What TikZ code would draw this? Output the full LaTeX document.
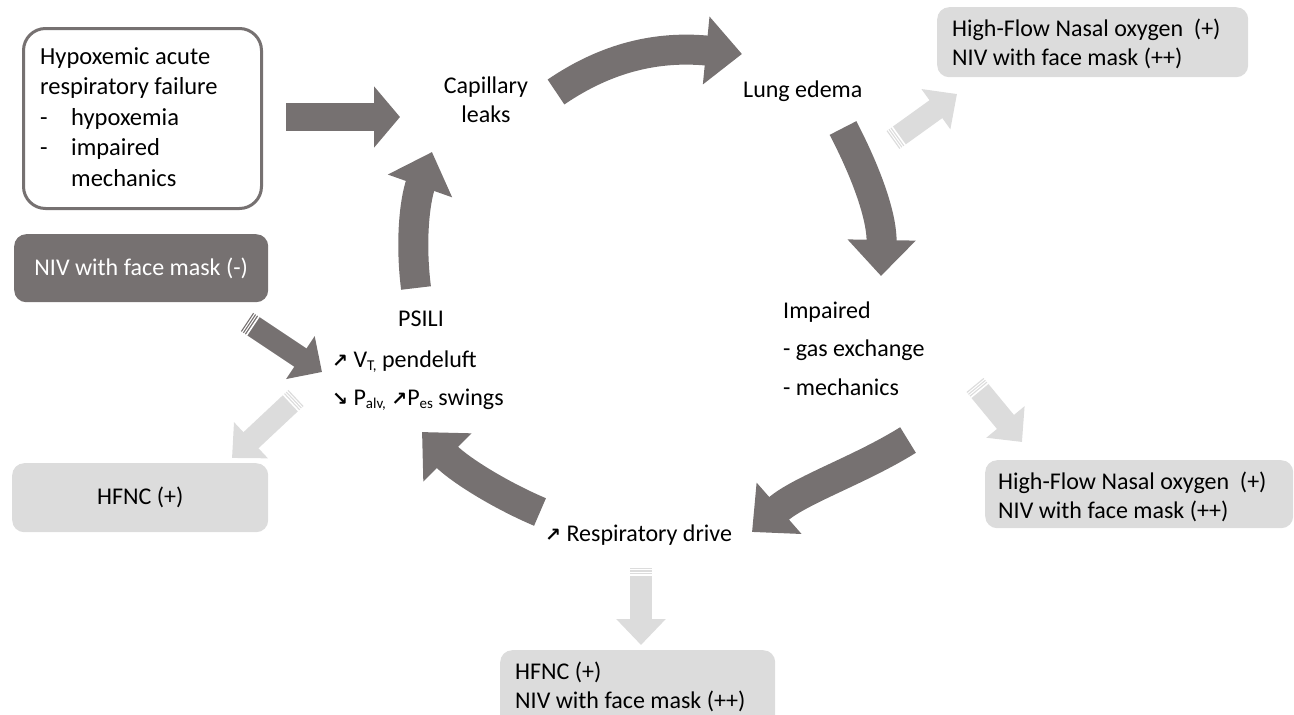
\documentclass[tikz,border=0pt]{standalone}
\usepackage{fontspec}
\setmainfont{Carlito}
\newfontfamily\symfont{DejaVu Sans}
\usetikzlibrary{arrows.meta}
\definecolor{darkg}{HTML}{767171}
\definecolor{lightg}{HTML}{DCDCDC}
\newcommand\upar{{\symfont\bfseries\fontsize{19}{19}\selectfont ↗}}
\newcommand\dnar{{\symfont\bfseries\fontsize{19}{19}\selectfont ↘}}
\newcommand\sbs[1]{\raisebox{-0.28ex}{\fontsize{15}{15}\selectfont #1}}
\begin{document}
\begin{tikzpicture}[x=1pt,y=-1pt,
  every node/.style={font=\fontsize{24}{29}\selectfont, inner sep=0pt},
  txt/.style={anchor=base west},
  lightbox/.style={fill=lightg, rounded corners=12pt},
  bigdark/.style={draw=darkg, line width=30pt, -{Triangle[length=36pt,width=66pt]}},
  smalldark/.style={draw=darkg, line width=22pt, -{Triangle[length=26pt,width=50pt]}},
  smalllight/.style={draw=lightg, line width=22pt, -{Triangle[length=26pt,width=48pt]}},
  stripes/.style={draw=white, line width=23pt, shorten <=1.3pt, dash pattern=on 1pt off 1.4pt on 1pt off 1.4pt on 1.6pt off 3000pt}
]
\useasboundingbox (0,0) rectangle (1294,715);

% boxes
\node[draw=darkg, line width=3pt, rounded corners=22pt, fill=white,
      minimum width=238pt, minimum height=180pt, anchor=north west] (hyp) at (22,27) {};
\node[txt, align=left, font=\fontsize{24.5}{30.5}\selectfont] (hyptxt) at (40,186)
  {Hypoxemic acute\\respiratory failure\\\makebox[31pt][l]{-}hypoxemia\\\makebox[31pt][l]{-}impaired\\\makebox[31pt][l]{}mechanics};

\node[fill=darkg, rounded corners=12pt, minimum width=254pt, minimum height=68pt,
      anchor=north west, text=white] (nivbad) at (14,234) {NIV with face mask (-)};
\node[lightbox, minimum width=256pt, minimum height=69pt, anchor=north west] (hfncl) at (12,463) {HFNC (+)};

\node[lightbox, minimum width=311pt, minimum height=70pt, anchor=north west] (trbox) at (937,7) {};
\node[txt, align=left] (trtxt) at (952,65) {High-Flow Nasal oxygen\ \ (+)\\NIV with face mask (++)};

\node[lightbox, minimum width=308pt, minimum height=68pt, anchor=north west] (brbox) at (985,460) {};
\node[txt, align=left] (brtxt) at (998,518) {High-Flow Nasal oxygen\ \ (+)\\NIV with face mask (++)};

\node[lightbox, minimum width=275pt, minimum height=80pt, anchor=north west] (botbox) at (500,650) {};
\node[txt, align=left] (bottxt) at (515,708) {HFNC (+)\\NIV with face mask (++)};

% cycle texts
\node[anchor=base, align=center] (cap) at (486,122) {Capillary\\leaks};
\node[txt] (lung) at (743,97) {Lung edema};
\node[txt, align=left, font=\fontsize{24}{38.5}\selectfont] (imp) at (783,395) {Impaired\\- gas exchange\\- mechanics};
\node[txt] (resp) at (545,541) {\upar\ Respiratory drive};
\node[anchor=base] (psili) at (421,326) {PSILI};
\node[txt] (vt) at (332,367) {\upar\ V\sbs{T,} pendeluft};
\node[txt] (palv) at (332,405) {\dnar\ P\sbs{alv,} \upar P\sbs{es} swings};

% connector end points
\coordinate (a1) at (286,117); \coordinate (a2) at (400,117);
\coordinate (t1) at (556,92);  \coordinate (t2) at (742,54);
\coordinate (r1) at (843,128); \coordinate (r2) at (881,276);
\coordinate (lr1) at (908,440); \coordinate (lr2) at (752,532);
\coordinate (ll1) at (540,512); \coordinate (ll2) at (422,432);
\coordinate (l1) at (416,288); \coordinate (l2) at (432,152);
\coordinate (n1) at (247,322); \coordinate (n2) at (322,372);
\coordinate (h1) at (296,398); \coordinate (h2) at (232,458);
\coordinate (e1) at (893,140); \coordinate (e2) at (957,94);
\coordinate (m1) at (975,385); \coordinate (m2) at (1022,442);
\coordinate (d1) at (641,568); \coordinate (d2) at (641,645);

% main cycle arrows
\draw[draw=darkg, line width=28pt, -{Triangle[length=26pt,width=60pt]}] (a1) -- (a2);
\draw[bigdark] (t1) .. controls (600,62) and (650,45) .. (t2);
\draw[bigdark] (r1) .. controls (870,180) and (882,220) .. (r2);
\draw[bigdark] (lr1) .. controls (860,470) and (800,490) .. (lr2);
\draw[bigdark] (ll1) .. controls (500,495) and (460,470) .. (ll2);
\draw[bigdark] (l1) .. controls (410,240) and (415,200) .. (l2);

% striped side arrows
\draw[smalldark] (n1) -- (n2);
\draw[stripes] (n1) -- (n2);
\draw[smalllight] (h1) -- (h2);
\draw[stripes] (h1) -- (h2);
\draw[smalllight] (e1) -- (e2);
\draw[stripes] (e1) -- (e2);
\draw[smalllight] (m1) -- (m2);
\draw[stripes] (m1) -- (m2);
\draw[smalllight] (d1) -- (d2);
\draw[stripes] (d1) -- (d2);
\end{tikzpicture}
\end{document}
